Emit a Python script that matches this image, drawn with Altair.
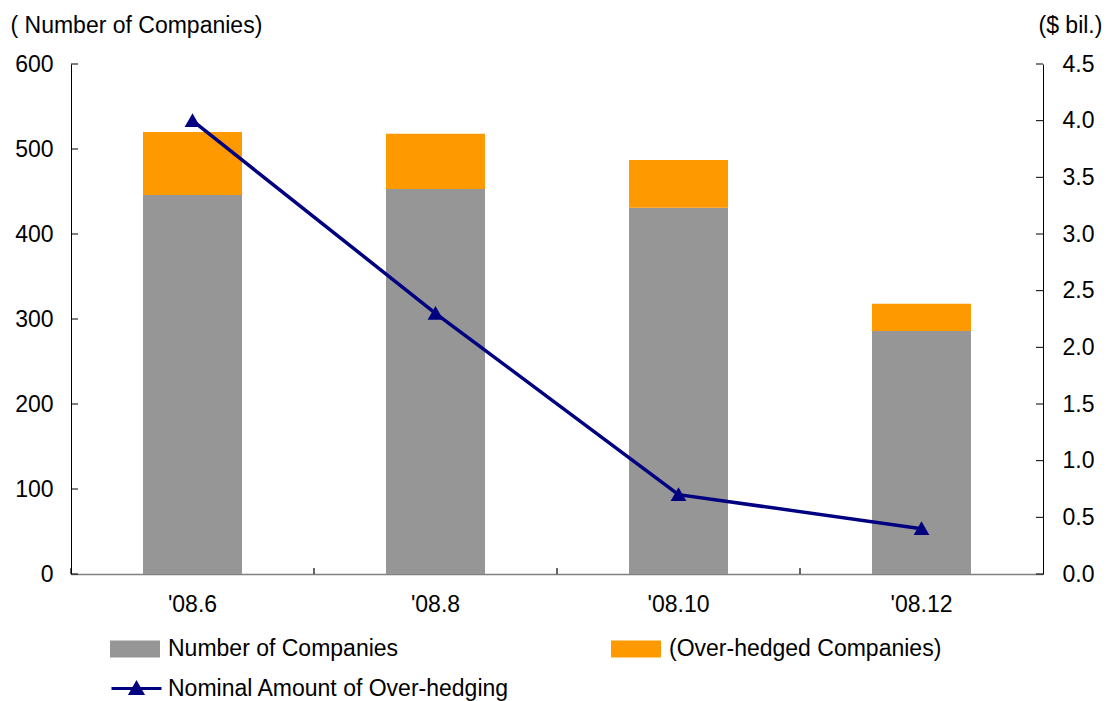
import altair as alt
import pandas as pd

periods = ["'08.6", "'08.8", "'08.10", "'08.12"]
companies = [446, 453, 431, 286]
overhedged = [74, 65, 56, 32]
nominal = [4.0, 2.3, 0.7, 0.4]
left_ticks = [0, 100, 200, 300, 400, 500, 600]
right_ticks = [0.0, 0.5, 1.0, 1.5, 2.0, 2.5, 3.0, 3.5, 4.0, 4.5]
bar_series = ["Number of Companies", "(Over-hedged Companies)"]
line_series = "Nominal Amount of Over-hedging"

FONT = "Liberation Sans"
FS = 23
W, H = 972, 510
NAVY = "#000080"

rows = []
for p, c, o in zip(periods, companies, overhedged):
    rows.append({"period": p, "series": bar_series[0], "value": c, "ord": 0})
    rows.append({"period": p, "series": bar_series[1], "value": o, "ord": 1})
bars_df = pd.DataFrame(rows)
line_df = pd.DataFrame({"period": periods, "amount": nominal, "series": [line_series] * len(periods)})
lt_df = pd.DataFrame({"value": left_ticks})
rt_df = pd.DataFrame({"amount": right_ticks})
xt_df = pd.DataFrame({"period": periods})

xscale = alt.Scale(domain=periods, paddingInner=0, paddingOuter=0)
xaxis = alt.Axis(title=None, labelAngle=0, labelFont=FONT, labelFontSize=FS, labelColor="black",
                 labelPadding=19, ticks=False, tickSize=0, domainColor="#808080", domainWidth=1.5)

yl_scale = alt.Scale(domain=[0, 600], nice=False)
yr_scale = alt.Scale(domain=[0, 4.5], nice=False)

bars = alt.Chart(bars_df).mark_bar(size=99).encode(
    x=alt.X("period:N", scale=xscale, sort=periods, axis=xaxis),
    y=alt.Y("value:Q", stack="zero", scale=yl_scale,
            axis=alt.Axis(values=left_ticks, title="( Number of Companies)", titleAngle=0,
                          titleAlign="left", titleBaseline="middle", titleX=-61, titleY=-39,
                          titleFont=FONT, titleFontSize=FS, titleFontWeight="normal", titleColor="black",
                          labelFont=FONT, labelFontSize=FS, labelColor="black", labelPadding=18,
                          ticks=False, tickSize=0, domainColor="black", grid=False)),
    color=alt.Color("series:N", scale=alt.Scale(domain=bar_series, range=["#969696", "#FF9900"]),
                    legend=alt.Legend(title=None, orient="none", legendX=39, legendY=560,
                                      direction="horizontal", columns=2, columnPadding=212,
                                      symbolType="M-1,-0.34H1V0.34H-1Z", symbolSize=2500,
                                      symbolStrokeWidth=0, labelFont=FONT, labelFontSize=FS,
                                      labelColor="black", labelOffset=8, labelLimit=500, padding=0)),
    order=alt.Order("ord:Q", sort="ascending"),
)

left_tick_marks = alt.Chart(lt_df).mark_rule(color="black", strokeWidth=1).encode(
    y=alt.Y("value:Q", scale=yl_scale),
    x=alt.value(0), x2=alt.value(7),
)

x_tick_marks = alt.Chart(xt_df).mark_rule(color="black", strokeWidth=1.2).encode(
    x=alt.X("period:N", scale=xscale, sort=periods, bandPosition=0),
    y=alt.value(H - 6), y2=alt.value(H),
)

left_layer = alt.layer(bars, left_tick_marks, x_tick_marks)

line = alt.Chart(line_df).mark_line(strokeWidth=3.5, point=alt.OverlayMarkDef(
    shape="triangle-up", filled=True, size=150, color=NAVY, opacity=1)).encode(
    x=alt.X("period:N", scale=xscale, sort=periods),
    y=alt.Y("amount:Q", scale=yr_scale,
            axis=alt.Axis(orient="right", values=right_ticks, format=".1f", title="($ bil.)",
                          titleAngle=0, titleAlign="left", titleBaseline="middle", titleX=-5, titleY=-39,
                          titleFont=FONT, titleFontSize=FS, titleFontWeight="normal", titleColor="black",
                          labelFont=FONT, labelFontSize=FS, labelColor="black", labelPadding=19,
                          ticks=False, tickSize=0, domainColor="black", grid=False)),
    stroke=alt.Stroke("series:N", scale=alt.Scale(domain=[line_series], range=[NAVY]),
                      legend=alt.Legend(title=None, orient="none", legendX=39, legendY=598,
                                        symbolType="M-1,0H1M-0.24,0.2L0,-0.22L0.24,0.2Z",
                                        symbolSize=2500, symbolStrokeWidth=3,
                                        symbolStrokeColor=NAVY, symbolFillColor=NAVY,
                                        labelFont=FONT, labelFontSize=FS, labelColor="black",
                                        labelOffset=5, labelLimit=500, padding=0)),
)

right_tick_marks = alt.Chart(rt_df).mark_rule(color="black", strokeWidth=1).encode(
    y=alt.Y("amount:Q", scale=yr_scale),
    x=alt.value(W - 7), x2=alt.value(W),
)

right_layer = alt.layer(line, right_tick_marks)

chart = alt.layer(left_layer, right_layer).resolve_scale(y="independent").properties(
    width=W, height=H,
    autosize=alt.AutoSizeParams(type="none"),
    padding={"left": 71, "top": 64, "right": 67, "bottom": 127},
    background="white",
).configure_view(stroke=None)

chart.save("out.html", embed_options={"renderer": "svg", "actions": False})
